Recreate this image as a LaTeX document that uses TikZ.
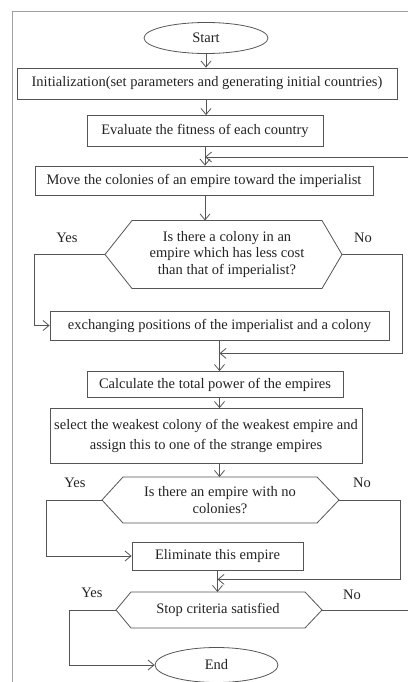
\documentclass[tikz,border=0pt]{standalone}
\usepackage{fontspec}
\setmainfont{Liberation Serif}
\usetikzlibrary{shapes.geometric, arrows.meta, positioning, calc}
\usepackage{xcolor}
\definecolor{linegray}{HTML}{555555}
\definecolor{framegray}{HTML}{A0A0A0}
\definecolor{textgray}{HTML}{222222}

\begin{document}
\begin{tikzpicture}[
    x=1pt, y=-1pt,
    every node/.style={font=\fontsize{14.5}{16.5}\selectfont, text=textgray, align=center, inner sep=2pt},
    box/.style={draw=linegray, line width=0.8pt, minimum height=29pt},
    terminal/.style={draw=linegray, line width=0.8pt, ellipse, minimum width=124pt, minimum height=31pt},
    decision/.style={outer sep=0pt},
    link/.style={draw=linegray, line width=0.8pt},
    flow/.style={link, -{Straight Barb[length=6pt, width=10pt]}},
]
\useasboundingbox (0,0) rectangle (408,682);
\draw[framegray, line width=0.8pt] (12,682) -- (12,11) -- (408,11);

\node[terminal] (start) at (206,38) {Start};
\node[box, minimum width=380pt, minimum height=31pt] (init) at (207,83.5) {Initialization(set parameters and generating initial countries)};
\node[box, minimum width=236pt, minimum height=31pt] (eval) at (205,131) {Evaluate the fitness of each country};
\node[box, minimum width=338pt] (move) at (204,180.5) {Move the colonies of an empire toward the imperialist};

\node[decision, minimum width=190pt, minimum height=68pt] (q1) at (227,254.5) {Is there a colony in an\\empire which has less cost\\than that of imperialist?};
\coordinate (q1l) at ([xshift=-27pt]q1.west);
\coordinate (q1r) at ([xshift=20pt]q1.east);
\draw[link] (q1.north west) -- (q1.north east) -- (q1r) -- (q1.south east) -- (q1.south west) -- (q1l) -- cycle;

\node[box, minimum width=339pt] (exch) at (219.5,325.5) {exchanging positions of the imperialist and a colony};
\node[box, minimum width=256pt, minimum height=26pt] (calc) at (215,384.5) {Calculate the total power of the empires};
\node[box, minimum width=312pt, minimum height=55pt] (select) at (206,436) {select the weakest colony of the weakest empire and\\[3pt]assign this to one of the strange empires};

\node[decision, minimum width=194pt, minimum height=46pt] (q2) at (220,500) {Is there an empire with no\\colonies?};
\coordinate (q2l) at ([xshift=-21pt]q2.west);
\coordinate (q2r) at ([xshift=22pt]q2.east);
\draw[link] (q2.north west) -- (q2.north east) -- (q2r) -- (q2.south east) -- (q2.south west) -- (q2l) -- cycle;

\node[box, minimum width=171pt, minimum height=28pt] (elim) at (217.5,556) {Eliminate this empire};

\node[decision, minimum width=174pt, minimum height=36pt] (q3) at (218,610) {Stop criteria satisfied};
\coordinate (q3l) at ([xshift=-15pt]q3.west);
\coordinate (q3r) at ([xshift=17pt]q3.east);
\draw[link] (q3.north west) -- (q3.north east) -- (q3r) -- (q3.south east) -- (q3.south west) -- (q3l) -- cycle;

\node[terminal, minimum width=123pt, minimum height=35pt] (stop) at (216.5,665) {End};

\node (y1) at (67,238) {Yes};
\node (n1) at (363,238) {No};
\node (y2) at (75,483) {Yes};
\node (n2) at (362,483) {No};
\node (y3) at (92,593) {Yes};
\node (n3) at (352,595) {No};

\coordinate (loopin) at (408,157);
\coordinate (stopno) at (408,610);
\coordinate (m1) at ([yshift=-13pt]exch.south);
\coordinate (m2) at ([yshift=-9pt]elim.south);

\draw[flow] (start.south) -- (start.south |- init.north);
\draw[flow] (init.south -| start.south) -- (start.south |- eval.north);
\draw[flow] (eval.south) -- (eval.south |- move.north);
\draw[flow] (loopin) -- (loopin -| eval.south);
\draw[flow] (move.south -| eval.south) -- (eval.south |- q1.north);
\draw[flow] (q1l) -| ([xshift=-15pt]exch.west) -- (exch.west);
\draw[flow] (q1r) -- ++(60,0) |- (m1);
\draw[flow] (exch.south) -- (exch.south |- calc.north);
\draw[flow] (calc.south -| exch.south) -- (exch.south |- select.north);
\draw[flow] (select.south -| exch.south) -- (exch.south |- q2.north);
\draw[flow] (q2l) -| ([xshift=-85pt]elim.west) -- (elim.west);
\draw[flow] (q2r) -- ++(61,0) |- (m2);
\draw[flow] (elim.south) -- (elim.south |- q3.north);
\draw[flow] (q3l) -| ([xshift=-85pt]stop.west) -- (stop.west);
\draw[link] (q3r) -- (stopno);

\end{tikzpicture}
\end{document}
